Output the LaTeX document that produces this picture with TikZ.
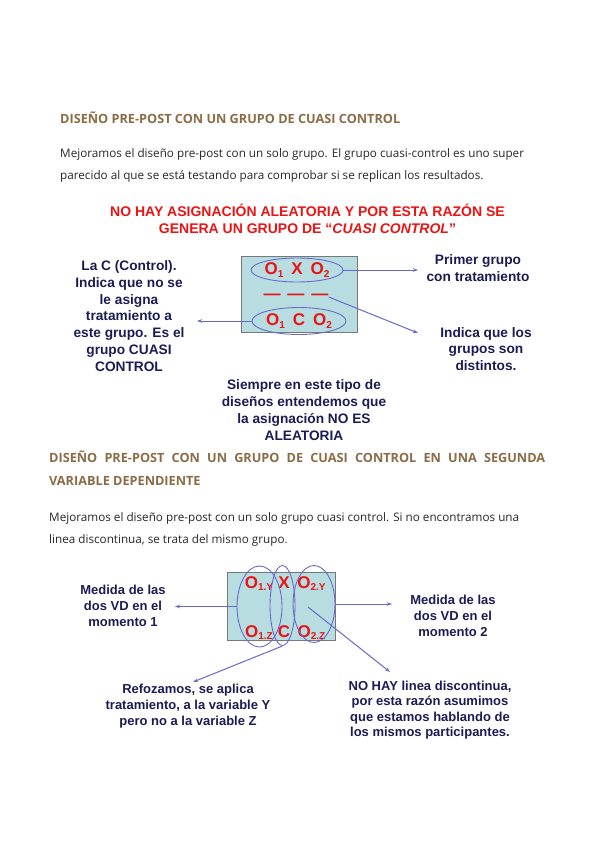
\documentclass[tikz,border=0pt]{standalone}
\usepackage{fontspec}
\setmainfont{Open Sans}
\newfontfamily\arialfont{Liberation Sans}
\usepackage{xcolor}
\usetikzlibrary{shapes.geometric,arrows.meta}

\definecolor{headbrown}{RGB}{140,108,70}
\definecolor{bodygray}{RGB}{40,40,40}
\definecolor{navy}{RGB}{28,28,85}
\definecolor{obsred}{RGB}{235,20,20}
\definecolor{ringblue}{RGB}{105,105,205}
\definecolor{boxfill}{RGB}{183,221,225}
\definecolor{boxgray}{RGB}{120,120,120}

\newcommand\obsub[1]{\raisebox{-2.5pt}{\fontsize{10}{10}\selectfont #1}}

\begin{document}
\begin{tikzpicture}[x=1pt, y=-1pt,
    heading/.style={anchor=base west, inner sep=0, font=\fontsize{12.7}{23}\selectfont\bfseries, text=headbrown},
    para/.style={anchor=base west, inner sep=0, align=left, font=\fontsize{11.7}{21.5}\selectfont, text=bodygray},
    note/.style={align=center, inner sep=0, font=\arialfont\fontsize{13.7}{16.8}\selectfont\bfseries, text=navy},
    obs/.style={inner sep=0, anchor=base, font=\arialfont\fontsize{17}{17}\selectfont\bfseries, text=obsred},
    ring/.style={draw=ringblue, ellipse, inner sep=0, line width=0.9pt},
    box/.style={draw=boxgray, fill=boxfill, inner sep=0, line width=0.8pt},
    link/.style={draw=ringblue, line width=1pt, -{Stealth[length=5pt,width=3.5pt]}}]
  \fill[white] (0,0) rectangle (600,848);
  \useasboundingbox (0,0) rectangle (600,848);

  % first design
  \node[heading] (head1) at (60,124) {DISEÑO PRE-POST CON UN GRUPO DE CUASI CONTROL};
  \node[para] (text1) at (60,179) {Mejoramos el diseño pre-post con un solo grupo. El grupo cuasi-control es uno super\\
    parecido al que se está testando para comprobar si se replican los resultados.};
  \node[note, text=obsred, font=\arialfont\fontsize{14}{17}\selectfont\bfseries] (title) at (307.5,219)
    {NO HAY ASIGNACIÓN ALEATORIA Y POR ESTA RAZÓN SE\\ GENERA UN GRUPO DE “\textit{CUASI CONTROL}”};

  \node[box, minimum width=116pt, minimum height=76pt] (box1) at (299,294) {};
  \node[ring, obs, anchor=center, minimum width=92pt, minimum height=24pt] (top) at (297,270)
    {O\obsub{1}\hspace{8pt}X\hspace{8pt}O\obsub{2}};
  \node[obs, anchor=center] (dashes) at (296,297) {—\hspace{7pt}—\hspace{7pt}—};
  \node[ring, obs, anchor=center, minimum width=94pt, minimum height=27pt] (bot) at (299,321)
    {O\obsub{1}\hspace{8pt}C\hspace{8pt}O\obsub{2}};

  \node[note] (control) at (129,316) {La C (Control).\\ Indica que no se\\ le asigna\\ tratamiento a\\ este grupo. Es el\\ grupo CUASI\\ CONTROL};
  \node[note] (primer) at (478,268) {Primer grupo\\ con tratamiento};
  \node[note] (distintos) at (486,349) {Indica que los\\ grupos son\\ distintos.};
  \node[note] (siempre) at (304,410) {Siempre en este tipo de\\ diseños entendemos que\\ la asignación NO ES\\ ALEATORIA};

  \coordinate (p1) at (418,270);
  \coordinate (p2) at (418,333);
  \coordinate (p3) at (197,321);
  \draw[link] (top.east) -- (p1);
  \draw[link] (dashes.east) -- (p2);
  \draw[link] (bot.west) -- (p3);

  % second design
  \node[heading, text width=496pt, align=justify] (head2) at (49,462)
    {DISEÑO PRE-POST CON UN GRUPO DE CUASI CONTROL EN UNA SEGUNDA\linebreak VARIABLE DEPENDIENTE};
  \node[para] (text2) at (49,543) {Mejoramos el diseño pre-post con un solo grupo cuasi control. Si no encontramos una\\
    linea discontinua, se trata del mismo grupo.};

  \node[box, minimum width=108pt, minimum height=68pt] (box2) at (281,606) {};
  \node[obs] (o1y) at (259,588) {O\obsub{1.Y}};
  \node[obs] (x) at (284,588) {X};
  \node[obs] (o2y) at (311.5,588) {O\obsub{2.Y}};
  \node[obs] (o1z) at (259,637) {O\obsub{1.Z}};
  \node[obs] (c) at (284,637) {C};
  \node[obs] (o2z) at (311.5,637) {O\obsub{2.Z}};
  \node[ring, minimum width=45pt, minimum height=81pt] (e1) at (259.5,606.5) {};
  \node[ring, minimum width=25pt, minimum height=80pt] (e2) at (282.5,605.5) {};
  \node[ring, minimum width=42pt, minimum height=77pt] (e3) at (314,604) {};

  \node[note, font=\arialfont\fontsize{13}{16}\selectfont\bfseries] (medida1) at (123,606) {Medida de las\\ dos VD en el\\ momento 1};
  \node[note, font=\arialfont\fontsize{13}{16}\selectfont\bfseries] (medida2) at (453,616) {Medida de las\\ dos VD en el\\ momento 2};
  \node[note, font=\arialfont\fontsize{13}{16}\selectfont\bfseries] (refuerzo) at (188,706) {Refozamos, se aplica\\ tratamiento, a la variable Y\\ pero no a la variable Z};
  \node[note, font=\arialfont\fontsize{13}{15.5}\selectfont\bfseries] (mismos) at (430,710) {NO HAY linea discontinua,\\ por esta razón asumimos\\ que estamos hablando de\\ los mismos participantes.};

  \coordinate (q1) at (175,606.5);
  \coordinate (q2) at (392,604);
  \coordinate (q3) at (193,682);
  \coordinate (q4) at (390,672);
  \draw[link] (e1.west) -- (q1);
  \draw[link] (e3.east) -- (q2);
  \draw[link] (e2.south) -- (q3);
  \draw[link] ([shift={(-6,3)}]e3.center) -- (q4);
\end{tikzpicture}
\end{document}
